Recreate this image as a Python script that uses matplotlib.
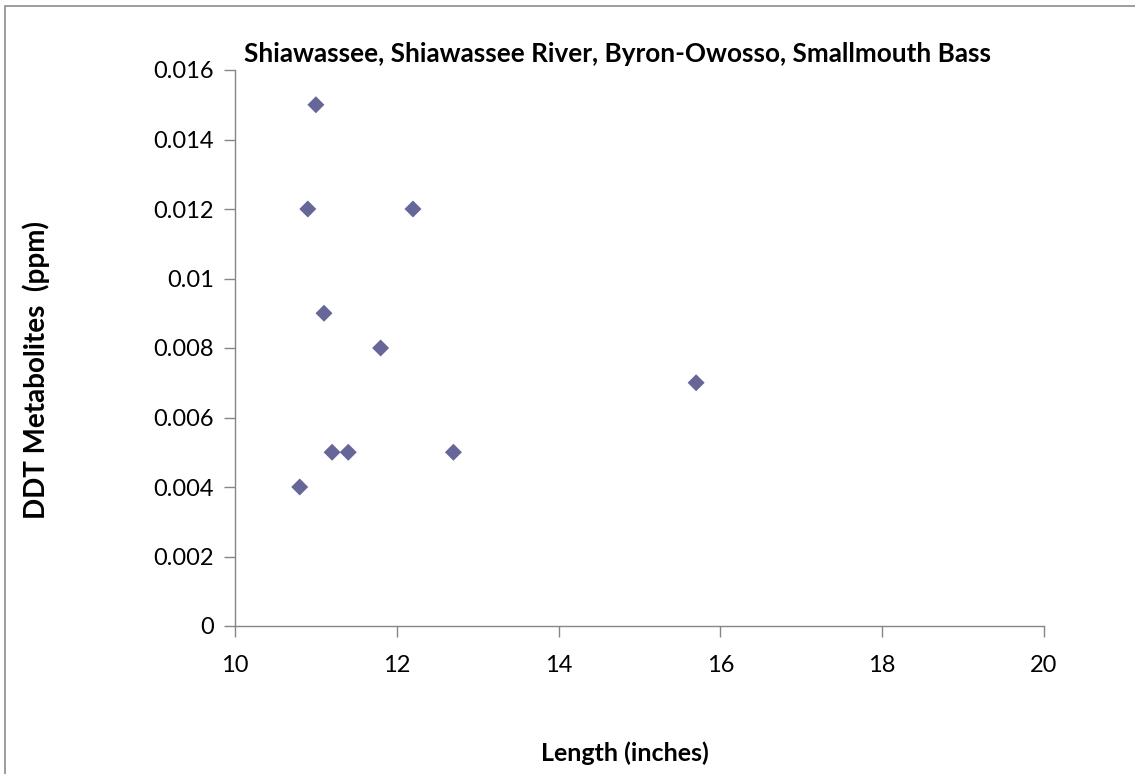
import matplotlib.pyplot as plt
from matplotlib.patches import Rectangle

# fish length (inches) vs DDT metabolites (ppm)
length = [11.0, 10.9, 12.2, 11.1, 11.8, 15.7, 11.2, 11.4, 12.7, 10.8]
ddt = [0.015, 0.012, 0.012, 0.009, 0.008, 0.007, 0.005, 0.005, 0.005, 0.004]

xticks = [10, 12, 14, 16, 18, 20]
yticks = [0, 0.002, 0.004, 0.006, 0.008, 0.01, 0.012, 0.014, 0.016]
ylabels = ['0', '0.002', '0.004', '0.006', '0.008', '0.01', '0.012', '0.014', '0.016']

plt.rcParams['font.family'] = ['Lato', 'DejaVu Sans']

W, H = 1135, 774
fig = plt.figure(figsize=(W/100, H/100), dpi=100)
ax = fig.add_axes([235/W, 1-626/H, (1044-235)/W, (626-70)/H])

# outer chart border (only top and left visible)
fig.patches.append(Rectangle((5/W, -0.1), 1.2, 1-6/H+0.1, transform=fig.transFigure,
                             fill=False, edgecolor='#8c8c8c', lw=1.2))

ax.scatter(length, ddt, marker='D', s=75, color='#666699', edgecolors='none', zorder=3)

ax.set_xlim(10, 20)
ax.set_ylim(0, 0.016)
ax.set_xticks(xticks)
ax.set_yticks(yticks)
ax.set_yticklabels(ylabels)

for s in ['top', 'right']:
    ax.spines[s].set_visible(False)
for s in ['left', 'bottom']:
    ax.spines[s].set_color('#868686')
    ax.spines[s].set_linewidth(1.0)
ax.tick_params(direction='out', length=8, width=1.0, color='#868686', labelsize=17)
ax.tick_params(axis='x', pad=13)
ax.tick_params(axis='y', pad=7)

fig.text(617/W, 1-54/H, 'Shiawassee, Shiawassee River, Byron-Owosso, Smallmouth Bass',
         ha='center', va='center', fontsize=18.8, fontweight='bold')
fig.text(625/W, 1-753/H, 'Length (inches)', ha='center', va='center',
         fontsize=18, fontweight='bold')
fig.text(36/W, 1-370/H, 'DDT Metabolites  (ppm)', ha='center', va='center',
         rotation=90, fontsize=20, fontweight='bold')

fig.savefig('out.png', dpi=100)
